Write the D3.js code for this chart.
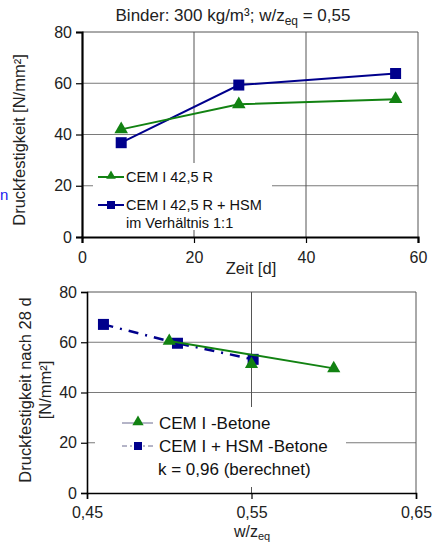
<!DOCTYPE html>
<html>
<head>
<meta charset="utf-8">
<script src="https://cdn.jsdelivr.net/npm/d3@7"></script>
<style>
  body { margin: 0; background: #fff; }
  svg { display: block; font-family: Arial, "Liberation Sans", sans-serif; }
</style>
</head>
<body>
<svg id="chart" width="433" height="543"></svg>
<script>
// top chart: strength over time
var days = [7, 28, 56];
var cemTime = [42, 51.8, 53.8];
var hsmTime = [36.8, 59.3, 63.8];
var timeTicks = [0, 20, 40, 60];
var strengthTicks = [0, 20, 40, 60, 80];

// bottom chart: 28 d strength over w/z
var wzCem = [0.50, 0.55, 0.60];
var cemWz = [60.5, 51.3, 49.6];
var wzHsm = [0.46, 0.505, 0.551];
var hsmWz = [67.1, 59.6, 53.2];
var wzTicks = [0.45, 0.55, 0.65];

var GREEN = '#128212';
var BLUE = '#00008c';
var GRID = '#7a7a7a';

var svg = d3.select('#chart');
var comma = function(f) { return function(d) { return d3.format(f)(d).replace('.', ','); }; };

function triangle(g, x, y, s, color) {
	g.append('path')
		.attr('d', d3.symbol().type(d3.symbolTriangle).size(s)())
		.attr('transform', 'translate(' + x + ',' + y + ')')
		.style('fill', color);
}

function square(g, x, y, w, color) {
	g.append('rect')
		.attr('x', x - w / 2).attr('y', y - w / 2)
		.attr('width', w).attr('height', w)
		.style('fill', color);
}

function drawFrame(g, x, y, box, opt) {
	// grid
	g.selectAll('line.hgrid').data(opt.yGrid).enter().append('line')
		.attr('x1', box.l).attr('x2', box.r)
		.attr('y1', function(d) {return y(d)}).attr('y2', function(d) {return y(d)})
		.style('stroke', GRID).style('stroke-width', 1);
	g.selectAll('line.vgrid').data(opt.xGrid).enter().append('line')
		.attr('x1', function(d) {return x(d)}).attr('x2', function(d) {return x(d)})
		.attr('y1', box.t).attr('y2', box.b)
		.style('stroke', '#555').style('stroke-width', 1);
	// top + right border
	g.append('path')
		.attr('d', 'M' + box.l + ',' + box.t + 'H' + box.r + 'V' + box.b)
		.style('fill', 'none').style('stroke', '#555').style('stroke-width', 1);
	// legend background hides the grid
	g.append('rect')
		.attr('x', opt.legend[0]).attr('y', opt.legend[1])
		.attr('width', opt.legend[2]).attr('height', opt.legend[3])
		.style('fill', '#fff');
}

function drawAxes(g, x, y, box, opt) {
	var ya = g.append('g').attr('transform', 'translate(' + box.l + ',0)')
		.call(d3.axisLeft(y).tickValues(opt.yTicks).tickSize(6).tickPadding(4));
	var xa = g.append('g').attr('transform', 'translate(0,' + box.b + ')')
		.call(d3.axisBottom(x).tickValues(opt.xTicks).tickSize(6).tickPadding(5).tickFormat(opt.xFormat));
	[ya, xa].forEach(function(a) {
		a.select('.domain').style('stroke', '#000').style('stroke-width', opt.axisWidth);
		a.selectAll('.tick line').style('stroke', '#000').style('stroke-width', 1.2);
		a.selectAll('.tick text').style('font-size', '16px').style('fill', '#222').style('font-family', 'Arial, "Liberation Sans", sans-serif');
	});
	xa.selectAll('.tick text').attr('dy', opt.xDy);
}

// ---------- top chart ----------
var top1 = {l: 82, r: 418, t: 32, b: 237};
var xTime = d3.scaleLinear().domain([0, 60]).range([top1.l, top1.r]);
var yTop = d3.scaleLinear().domain([0, 80]).range([top1.b, top1.t]);
var g1 = svg.append('g');

drawFrame(g1, xTime, yTop, top1, {yGrid: [20, 40, 60], xGrid: [20, 40], legend: [93, 163, 179, 67]});

var line1 = d3.line().x(function(d) {return xTime(d[0])}).y(function(d) {return yTop(d[1])});
g1.append('path').datum(d3.zip(days, hsmTime)).attr('d', line1)
	.style('fill', 'none').style('stroke', BLUE).style('stroke-width', 2);
g1.append('path').datum(d3.zip(days, cemTime)).attr('d', line1)
	.style('fill', 'none').style('stroke', GREEN).style('stroke-width', 2);
days.forEach(function(d, i) {
	square(g1, xTime(d), yTop(hsmTime[i]), 11, BLUE);
	triangle(g1, xTime(d), yTop(cemTime[i]), 80, GREEN);
});

drawAxes(g1, xTime, yTop, top1, {yTicks: strengthTicks, xTicks: timeTicks, xFormat: d3.format('d'), axisWidth: 2.2, xDy: '0.95em'});

// legend top
g1.append('line').attr('x1', 98).attr('x2', 124).attr('y1', 177).attr('y2', 177)
	.style('stroke', GREEN).style('stroke-width', 2);
triangle(g1, 111, 176, 40, GREEN);
g1.append('line').attr('x1', 98).attr('x2', 124).attr('y1', 205).attr('y2', 205)
	.style('stroke', BLUE).style('stroke-width', 2);
square(g1, 111, 205, 8, BLUE);
var lt = g1.append('g').style('font-size', '14.5px').style('fill', '#111');
lt.append('text').attr('x', 126).attr('y', 182).text('CEM I 42,5 R');
lt.append('text').attr('x', 126).attr('y', 210).text('CEM I 42,5 R + HSM');
lt.append('text').attr('x', 126).attr('y', 228).text('im Verhältnis 1:1');

// titles top
var title = svg.append('text').attr('x', 233).attr('y', 21).attr('text-anchor', 'middle')
	.style('font-size', '17px').style('fill', '#222');
title.append('tspan').text('Binder: 300 kg/m³; w/z');
title.append('tspan').attr('dy', 4).style('font-size', '12px').text('eq');
title.append('tspan').attr('dy', -4).text(' = 0,55');

svg.append('text').attr('transform', 'translate(25,140) rotate(-90)').attr('text-anchor', 'middle')
	.style('font-size', '16.5px').style('fill', '#222').text('Druckfestigkeit [N/mm²]');
svg.append('text').attr('x', 251).attr('y', 274).attr('text-anchor', 'middle')
	.style('font-size', '16.5px').style('fill', '#222').text('Zeit [d]');
svg.append('text').attr('x', 0).attr('y', 200)
	.style('font-size', '15px').style('fill', '#1a1aee').text('n');

// ---------- bottom chart ----------
var bot = {l: 87, r: 416, t: 292, b: 493};
var xWz = d3.scaleLinear().domain([0.45, 0.65]).range([bot.l, bot.r]);
var yBot = d3.scaleLinear().domain([0, 80]).range([bot.b, bot.t]);
var g2 = svg.append('g');

drawFrame(g2, xWz, yBot, bot, {yGrid: [20, 40, 60], xGrid: [0.55], legend: [95, 407, 251, 80]});

var line2 = d3.line().x(function(d) {return xWz(d[0])}).y(function(d) {return yBot(d[1])});
g2.append('path').datum(d3.zip(wzHsm, hsmWz)).attr('d', line2)
	.style('fill', 'none').style('stroke', BLUE).style('stroke-width', 2.5)
	.style('stroke-dasharray', '10,7,2,7');
wzHsm.forEach(function(d, i) { square(g2, xWz(d), yBot(hsmWz[i]), 11, BLUE); });
// CEM I trend: straight line from first to last point
var cemEnds = [[wzCem[0], cemWz[0]], [wzCem[wzCem.length - 1], cemWz[cemWz.length - 1]]];
g2.append('path').datum(cemEnds).attr('d', line2)
	.style('fill', 'none').style('stroke', GREEN).style('stroke-width', 2);
wzCem.forEach(function(d, i) { triangle(g2, xWz(d), yBot(cemWz[i]), 75, GREEN); });

drawAxes(g2, xWz, yBot, bot, {yTicks: strengthTicks, xTicks: wzTicks, xFormat: comma('.2f'), axisWidth: 1.6, xDy: '0.85em'});

// legend bottom
g2.append('line').attr('x1', 122).attr('x2', 153).attr('y1', 423).attr('y2', 423)
	.style('stroke', '#6a6a90').style('stroke-width', 1);
triangle(g2, 138, 422, 55, GREEN);
g2.append('line').attr('x1', 122).attr('x2', 153).attr('y1', 446).attr('y2', 446)
	.style('stroke', '#6a6a90').style('stroke-width', 1).style('stroke-dasharray', '5,3,2,3');
square(g2, 138, 446, 8, BLUE);
var lb = g2.append('g').style('font-size', '17px').style('fill', '#111');
lb.append('text').attr('x', 159).attr('y', 429).text('CEM I -Betone');
lb.append('text').attr('x', 159).attr('y', 452).text('CEM I + HSM -Betone');
lb.append('text').attr('x', 158).attr('y', 475).text('k = 0,96 (berechnet)');

var yl2 = svg.append('text').attr('transform', 'translate(0,390) rotate(-90)').attr('text-anchor', 'middle')
	.style('font-size', '16.5px').style('fill', '#222');
yl2.append('tspan').attr('x', 0).attr('y', 31).text('Druckfestigkeit nach 28 d');
yl2.append('tspan').attr('x', 0).attr('y', 51).text('[N/mm²]');

var xl2 = svg.append('text').attr('x', 252).attr('y', 537).attr('text-anchor', 'middle')
	.style('font-size', '16px').style('fill', '#222');
xl2.append('tspan').text('w/z');
xl2.append('tspan').attr('dy', 3).style('font-size', '11px').text('eq');
</script>
</body>
</html>
